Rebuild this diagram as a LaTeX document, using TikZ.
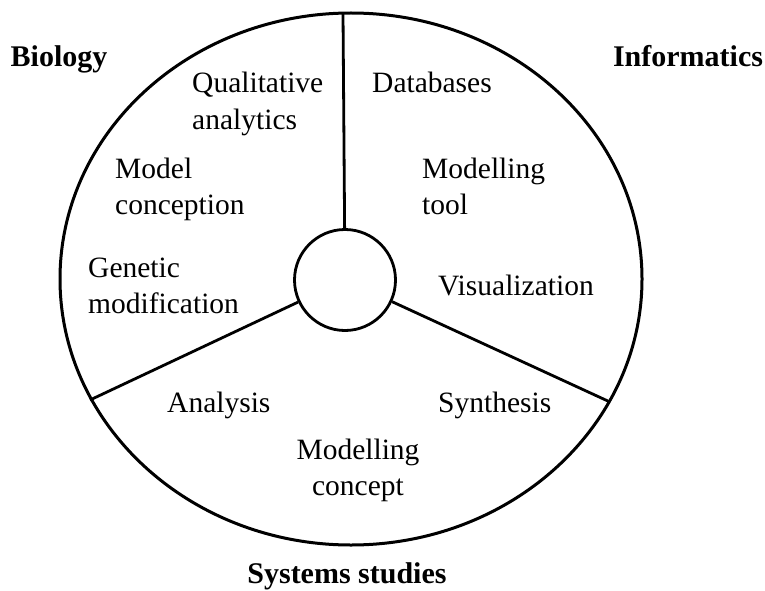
\documentclass[tikz,border=0pt]{standalone}
\usepackage{fontspec}
\setmainfont{Liberation Serif}
\usetikzlibrary{positioning}

\begin{document}
\begin{tikzpicture}[x=1pt,y=-1pt,
        rim/.style={line width=3pt},
        spoke/.style={line width=2.8pt},
        hubcircle/.style={circle,draw,line width=2.8pt,minimum size=101pt,inner sep=0pt},
        item/.style={inner sep=0pt,align=left,font=\fontsize{29.5}{36}\selectfont},
        field/.style={inner sep=0pt,font=\fontsize{30}{36}\selectfont\bfseries}]
        \useasboundingbox (0,0) rectangle (765,591);

        \draw[rim] (351,279) ellipse [x radius=291, y radius=266];
        \node[hubcircle] (hub) at (345,280) {};

        \coordinate (rimN) at (343,13);
        \coordinate (rimSW) at (90,400);
        \coordinate (rimSE) at (610,402);

        \draw[spoke] (hub) -- (rimN);
        \draw[spoke] (hub) -- (rimSW);
        \draw[spoke] (hub) -- (rimSE);

        % the last line of a block sits on the given baseline
        \node[field,anchor=base] (bio) at (59,67) {Biology};
        \node[field,anchor=base] (inf) at (688,67) {Informatics};
        \node[field,anchor=base] (sys) at (347,583) {Systems studies};

        \node[item,anchor=base west] (qual) at (192,129) {Qualitative\\analytics};
        \node[item,anchor=base west] (model) at (115,214) {Model\\conception};
        \node[item,anchor=base west] (gen) at (88,313) {Genetic\\modification};
        \node[item,anchor=base west] (db) at (372,93) {Databases};
        \node[item,anchor=base west] (tool) at (422,214) {Modelling\\tool};
        \node[item,anchor=base west] (vis) at (438,295) {Visualization};
        \node[item,anchor=base west] (ana) at (167,412) {Analysis};
        \node[item,anchor=base west] (syn) at (438,412) {Synthesis};
        \node[item,align=center,anchor=base] (concept) at (358,495) {Modelling\\concept};
\end{tikzpicture}
\end{document}
